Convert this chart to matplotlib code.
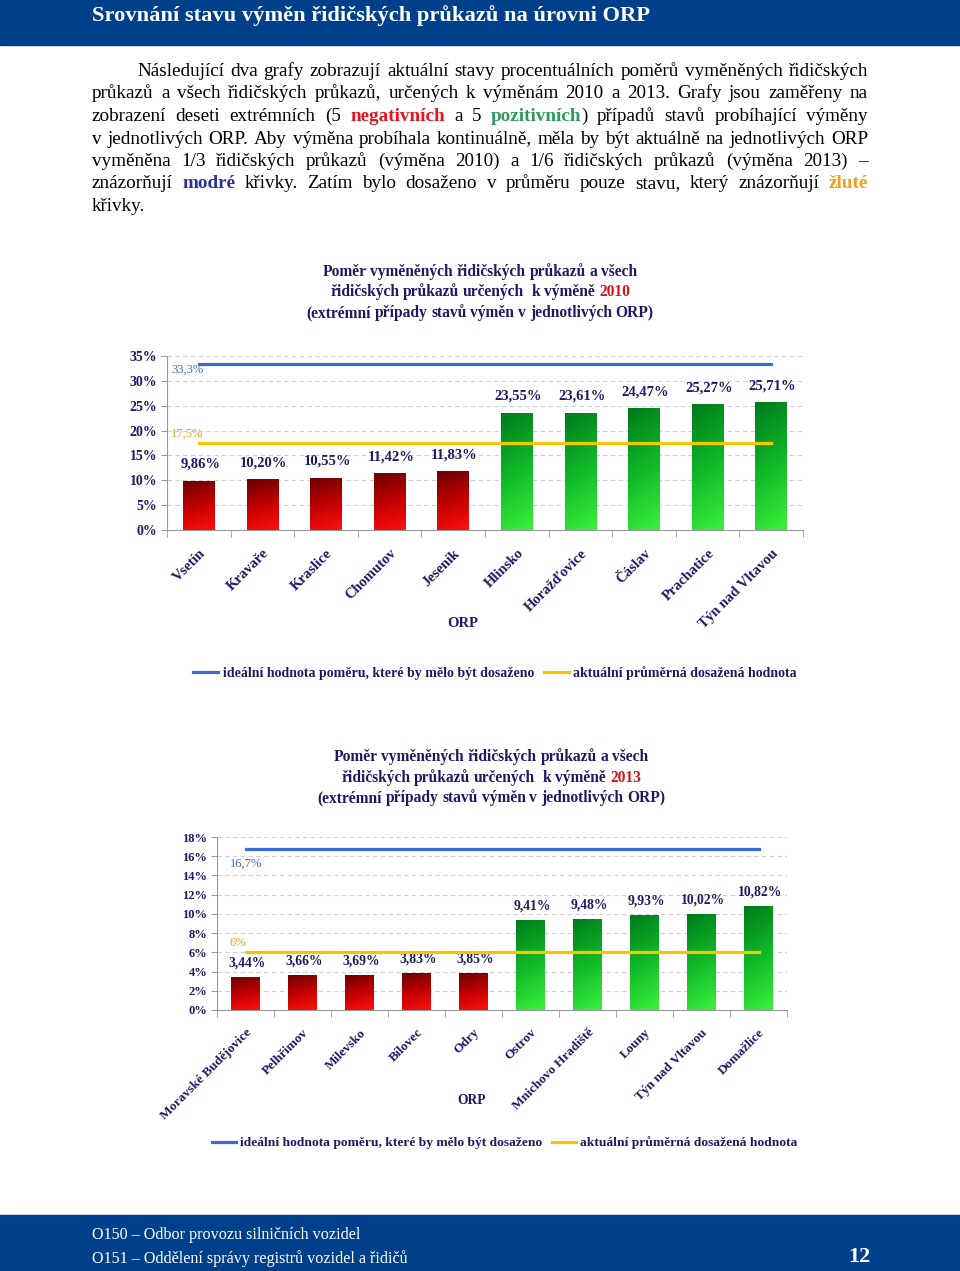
import numpy as np
import matplotlib
matplotlib.use('Agg')
import matplotlib.pyplot as plt
import matplotlib.transforms as mtrans
from matplotlib.patches import Rectangle
from matplotlib.lines import Line2D
from matplotlib.colors import LinearSegmentedColormap

plt.rcParams['font.family'] = ['Liberation Serif', 'DejaVu Serif']

# data
cats1 = ['Vsetín', 'Kravaře', 'Kraslice', 'Chomutov', 'Jeseník',
         'Hlinsko', 'Horažďovice', 'Čáslav', 'Prachatice', 'Týn nad Vltavou']
vals1 = [9.86, 10.20, 10.55, 11.42, 11.83, 23.55, 23.61, 24.47, 25.27, 25.71]
ideal1 = 33.3
avg1 = 17.5

cats2 = ['Moravské Budějovice', 'Pelhřimov', 'Milevsko', 'Bílovec', 'Odry',
         'Ostrov', 'Mnichovo Hradiště', 'Louny', 'Týn nad Vltavou', 'Domažlice']
vals2 = [3.44, 3.66, 3.69, 3.83, 3.85, 9.41, 9.48, 9.93, 10.02, 10.82]
ideal2 = 16.7
avg2 = 6

body = [
    'Následující dva grafy zobrazují aktuální stavy procentuálních poměrů vyměněných řidičských',
    'průkazů a všech řidičských průkazů, určených k výměnám 2010 a 2013. Grafy jsou zaměřeny na',
    'zobrazení deseti extrémních (5 negativních a 5 pozitivních) případů stavů probíhající výměny',
    'v jednotlivých ORP. Aby výměna probíhala kontinuálně, měla by být aktuálně na jednotlivých ORP',
    'vyměněna 1/3 řidičských průkazů (výměna 2010) a 1/6 řidičských průkazů (výměna 2013) –',
    'znázorňují modré křivky. Zatím bylo dosaženo v průměru pouze stavu, který znázorňují žluté',
    'křivky.',
]

NAVY = '#1c1a64'
BLUE = '#3a6ad6'
YELLOW = '#f7c600'
HEAD = '#00408a'

body_marks = {'negativních': ('#e8141c', 'bold'), 'pozitivních': ('#2e9a5c', 'bold'),
              'modré': ('#2e3192', 'bold'), 'žluté': ('#f0a020', 'bold')}
title_marks = {'2010': ('#d4141c', 'bold'), '2013': ('#d4141c', 'bold')}

W, H = 960, 1271
fig = plt.figure(figsize=(W / 100, H / 100), dpi=100)
renderer = fig.canvas.get_renderer()


def fx(px):
    return px / W


def fy(py):
    return 1 - py / H


def measure(s, size, weight):
    t = fig.text(0, 0, s, fontsize=size, weight=weight)
    w = t.get_window_extent(renderer).width
    t.remove()
    return w


def split_word(w, color, weight, marks):
    for key, (c, wt) in marks.items():
        if key in w:
            a, b = w.split(key, 1)
            return [s for s in [(a, color, weight), (key, c, wt), (b, color, weight)] if s[0]]
    return [(w, color, weight)]


def draw_line(line, x0, x1, base, size, align, marks, color='black', weight='normal'):
    words = [split_word(w, color, weight, marks) for w in line.split(' ')]
    widths = [[measure(s, size, wt) for s, c, wt in wd] for wd in words]
    total = sum(sum(ws) for ws in widths)
    space = measure('x x', size, weight) - measure('xx', size, weight)
    n = len(words)
    x = x0
    if align == 'justify' and n > 1:
        gap = (x1 - x0 - total) / (n - 1)
    else:
        gap = space
        if align == 'center':
            x = (x0 + x1) / 2 - (total + gap * (n - 1)) / 2
    for wd, ws in zip(words, widths):
        for (s, c, wt), sw in zip(wd, ws):
            fig.text(fx(x), fy(base), s, fontsize=size, weight=wt, color=c,
                     ha='left', va='baseline')
            x += sw
        x += gap


# header and footer bands
fig.patches.append(Rectangle((0, fy(45)), 1, 45 / H, transform=fig.transFigure,
                             color=HEAD, zorder=0))
fig.patches.append(Rectangle((0, 0), 1, 56 / H, transform=fig.transFigure,
                             color=HEAD, zorder=0))
fig.text(fx(92), fy(16), 'Srovnání stavu výměn řidičských průkazů na úrovni ORP',
         color='white', weight='bold', fontsize=16.2, va='center')
fig.text(fx(92), fy(1235), 'O150 – Odbor provozu silničních vozidel',
         color='white', fontsize=11.6, va='center')
fig.text(fx(92), fy(1259), 'O151 – Oddělení správy registrů vozidel a řidičů',
         color='white', fontsize=11.6, va='center')
fig.text(fx(870), fy(1257), '12', color='white', fontsize=16, weight='bold',
         va='center', ha='right')

# body paragraph
for i, line in enumerate(body):
    base = 76 + i * 22.5
    x0 = 137 if i == 0 else 92
    align = 'left' if i == len(body) - 1 else 'justify'
    draw_line(line, x0, 868, base, 13.8, align, body_marks)

red_cm = LinearSegmentedColormap.from_list('r', ['#6a0000', '#c00000', '#ff1010'])
green_cm = LinearSegmentedColormap.from_list('g', ['#007a1c', '#10b828', '#3cf03c'])


def chart(ax, cats, vals, ideal, avg, ymax, ystep, tick_size, lab_size, lab_off,
          ideal_off, avg_off, ref_dx):
    n = len(cats)
    x = np.arange(n)
    bars = ax.bar(x, vals, width=0.5, color='none', zorder=3)
    yy, xx = np.mgrid[0:1:100j, 0:1:20j]
    grad = yy * 0.85 + xx * 0.15
    for i, b in enumerate(bars):
        cm = red_cm if i < n // 2 else green_cm
        im = ax.imshow(grad, cmap=cm, aspect='auto', zorder=3,
                       extent=[b.get_x(), b.get_x() + b.get_width(), 0, b.get_height()],
                       origin='upper')
        im.set_clip_path(b)
        ax.annotate(f'{vals[i]:.2f}%'.replace('.', ','), (x[i], vals[i]),
                    xytext=(1, lab_off), textcoords='offset points',
                    ha='center', va='center', fontsize=lab_size, weight='bold', color=NAVY)
    ax.plot(x, [ideal] * n, color=BLUE, lw=2.3, zorder=4)
    ax.plot(x, [avg] * n, color=YELLOW, lw=2.3, zorder=4)
    ax.annotate(f'{ideal}%'.replace('.', ','), (-0.5, ideal), xytext=(ref_dx, ideal_off),
                textcoords='offset points', ha='left', va='center', fontsize=9, color=BLUE)
    ax.annotate(f'{avg:g}%'.replace('.', ','), (-0.5, avg), xytext=(ref_dx, avg_off),
                textcoords='offset points', ha='left', va='center', fontsize=9,
                color='#e8a020')
    ax.set_xlim(-0.5, n - 0.5)
    ax.set_ylim(0, ymax)
    ticks = np.arange(0, ymax + 0.1, ystep)
    ax.set_yticks(ticks)
    ax.set_yticklabels([f'{t:g}%' for t in ticks], fontsize=tick_size, weight='bold', color=NAVY)
    ax.set_xticks(x)
    ax.set_xticklabels(cats, rotation=45, ha='right', va='top', rotation_mode='anchor',
                       fontsize=tick_size + 0.5, weight='bold', color=NAVY)
    shift = mtrans.ScaledTranslation(-8 / 72, 0, fig.dpi_scale_trans)
    for lab in ax.get_xticklabels():
        lab.set_transform(lab.get_transform() + shift)
    ax.set_xticks(np.arange(-0.5, n, 1), minor=True)
    ax.tick_params(axis='x', which='major', length=0, pad=12)
    ax.tick_params(axis='x', which='minor', length=5, color='#999999')
    ax.tick_params(axis='y', length=4, color='#999999', pad=3)
    ax.yaxis.grid(True, ls=(0, (4, 3)), color='#cfcfcf', lw=0.8, zorder=0)
    ax.set_axisbelow(True)
    for s in ['top', 'right']:
        ax.spines[s].set_visible(False)
    for s in ['left', 'bottom']:
        ax.spines[s].set_color('#999999')


handles = [Line2D([], [], color=BLUE, lw=2.3), Line2D([], [], color=YELLOW, lw=2.3)]
labels = ['ideální hodnota poměru, které by mělo být dosaženo',
          'aktuální průměrná dosažená hodnota']

# chart 1
for i, line in enumerate(['Poměr vyměněných řidičských průkazů a všech',
                          'řidičských průkazů určených  k výměně 2010',
                          '(extrémní případy stavů výměn v jednotlivých ORP)']):
    draw_line(line, 300, 660, 276 + i * 20.5, 11.2, 'center', title_marks,
              color=NAVY, weight='bold')

ax1 = fig.add_axes([fx(167), fy(530), fx(803 - 167), (530 - 356) / H])
chart(ax1, cats1, vals1, ideal1, avg1, 35, 5, 10, 10.5, 12, -4, 6.5, 3)
fig.text(fx(463), fy(623), 'ORP', ha='center', va='center', fontsize=10.5,
         weight='bold', color=NAVY)
fig.legend(handles, labels, loc='center', bbox_to_anchor=(fx(495), fy(673)), ncol=2,
           frameon=False, prop=dict(weight='bold', size=10), labelcolor=NAVY,
           handlelength=1.8, handletextpad=0.3, columnspacing=0.7)

# chart 2
for i, line in enumerate(['Poměr vyměněných řidičských průkazů a všech',
                          'řidičských průkazů určených  k výměně 2013',
                          '(extrémní případy stavů výměn v jednotlivých ORP)']):
    draw_line(line, 311, 671, 761 + i * 20.5, 11.2, 'center', title_marks,
              color=NAVY, weight='bold')

ax2 = fig.add_axes([fx(217), fy(1010), fx(787 - 217), (1010 - 837) / H])
chart(ax2, cats2, vals2, ideal2, avg2, 18, 2, 9, 9.8, 10, -10.5, 7, 9)
fig.text(fx(472), fy(1101), 'ORP', ha='center', va='center', fontsize=9.8,
         weight='bold', color=NAVY)
fig.legend(handles, labels, loc='center', bbox_to_anchor=(fx(505), fy(1143)), ncol=2,
           frameon=False, prop=dict(weight='bold', size=9.7), labelcolor=NAVY,
           handlelength=1.8, handletextpad=0.3, columnspacing=0.7)

fig.savefig('out.png', dpi=100)
